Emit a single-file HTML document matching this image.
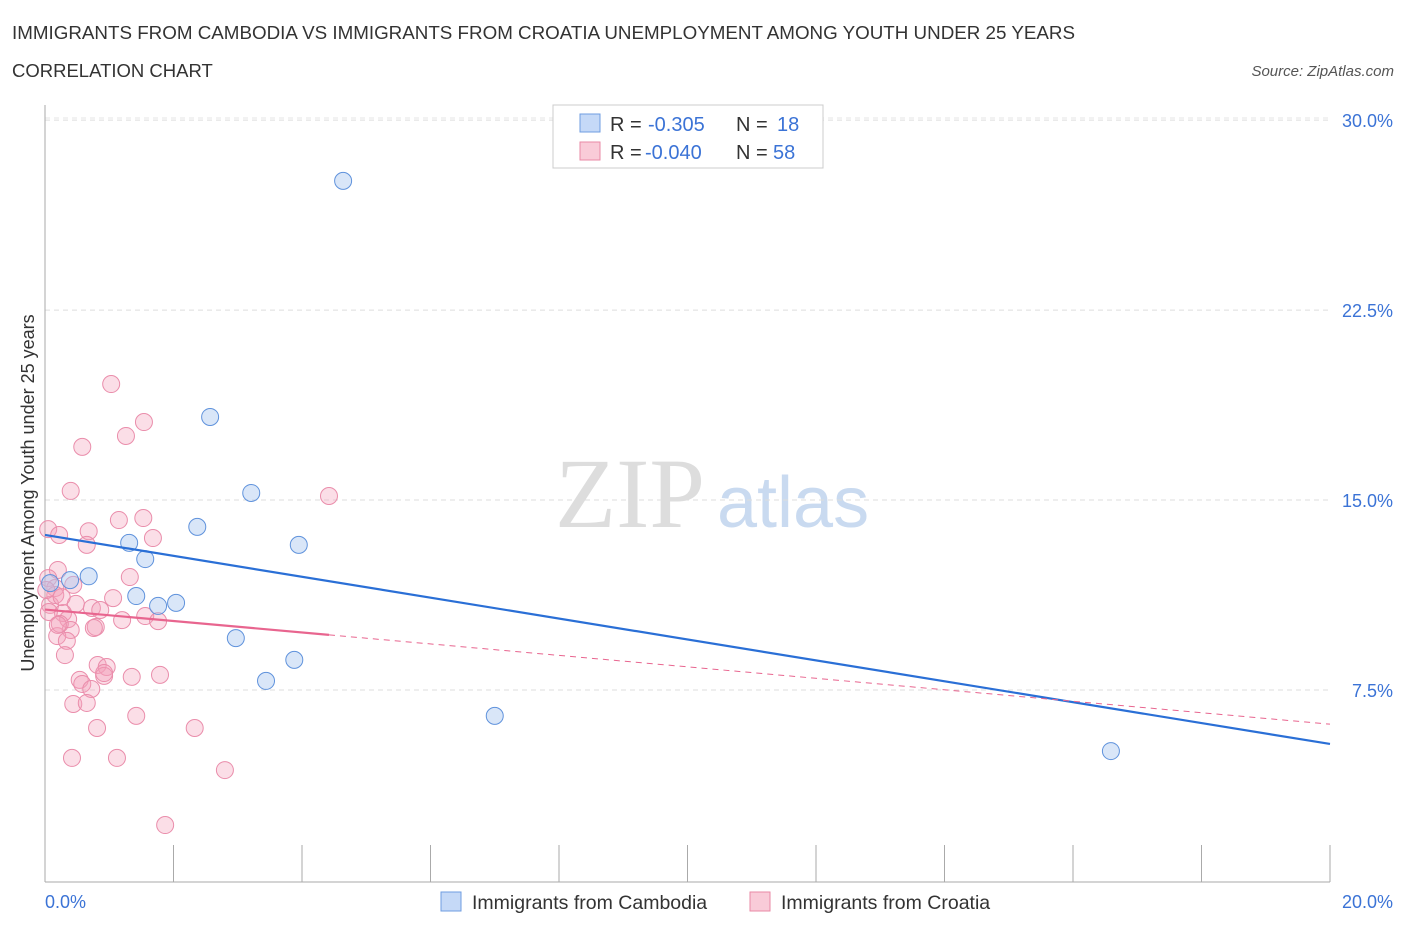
<!DOCTYPE html>
<html><head><meta charset="utf-8"><style>
body{margin:0;background:#fff;font-family:"Liberation Sans",sans-serif}
svg text{font-family:"Liberation Sans",sans-serif}
</style></head><body>
<svg id="c" width="1406" height="930" xmlns="http://www.w3.org/2000/svg">
<text x="12" y="39" font-size="18.8" fill="#333">IMMIGRANTS FROM CAMBODIA VS IMMIGRANTS FROM CROATIA UNEMPLOYMENT AMONG YOUTH UNDER 25 YEARS</text>
<text x="12" y="77" font-size="18.5" fill="#333">CORRELATION CHART</text>
<text x="1394" y="76" font-size="15" fill="#555" font-style="italic" text-anchor="end">Source: ZipAtlas.com</text>
<text x="555" y="527" font-size="100" fill="#ddd" style="font-family:'Liberation Serif',serif">ZIP</text>
<text x="717" y="527" font-size="72" fill="#c9daf0">atlas</text>
<g id="grid"></g><g id="axes"></g><g id="lines"></g><g id="pts"></g>
<text transform="translate(34,493) rotate(-90)" font-size="18" fill="#333" text-anchor="middle">Unemployment Among Youth under 25 years</text>
<text x="45" y="908" font-size="18" fill="#3b73d6" text-anchor="start">0.0%</text>
<text x="1393" y="908" font-size="18" fill="#3b73d6" text-anchor="end">20.0%</text>
<g>
<rect x="553" y="105" width="270" height="63" fill="#fff" stroke="#ccc"/>
<rect x="580" y="114" width="20" height="18" fill="#c5d9f7" stroke="#6f9de0"/>
<text x="610" y="131" font-size="20" fill="#333">R =</text>
<text x="648" y="131" font-size="20" fill="#3b73d6">-0.305</text>
<text x="736" y="131" font-size="20" fill="#333">N =</text>
<text x="777" y="131" font-size="20" fill="#3b73d6">18</text>
<rect x="580" y="142" width="20" height="18" fill="#f9cbd8" stroke="#e98aa6"/>
<text x="610" y="159" font-size="20" fill="#333">R =</text>
<text x="645" y="159" font-size="20" fill="#3b73d6">-0.040</text>
<text x="736" y="159" font-size="20" fill="#333">N =</text>
<text x="773" y="159" font-size="20" fill="#3b73d6">58</text>
</g>
<g>
<rect x="441" y="892" width="20" height="19" fill="#c5d9f7" stroke="#6f9de0"/>
<text x="472" y="909" font-size="19.5" fill="#333">Immigrants from Cambodia</text>
<rect x="750" y="892" width="20" height="19" fill="#f9cbd8" stroke="#e98aa6"/>
<text x="781" y="909" font-size="19.5" fill="#333">Immigrants from Croatia</text>
</g>
</svg>
<script>
const yTicks=[7.5,15,22.5,30];
const yTickLabels=["7.5%","15.0%","22.5%","30.0%"];
const cambodiaX=[4.64,2.57,3.21,2.37,1.31,1.56,3.95,0.68,0.39,0.08,1.42,1.76,2.04,2.97,3.88,3.44,7.00,16.59];
const cambodiaY=[27.6,18.28,15.28,13.94,13.31,12.67,13.23,11.99,11.84,11.72,11.21,10.82,10.94,9.55,8.69,7.86,6.48,5.09];
const croatiaX=[1.03,1.54,1.26,0.58,0.40,4.42,1.15,1.53,0.68,0.05,0.22,1.68,0.65,0.20,1.32,0.05,0.44,0.16,1.06,0.08,0.73,0.48,0.28,0.06,1.56,1.20,1.76,0.36,0.79,0.76,0.40,0.19,0.34,0.31,0.82,0.96,0.92,1.35,1.79,0.54,0.58,0.72,0.44,0.65,0.81,1.42,2.33,0.42,1.12,2.80,1.87,0.92,0.16,0.23,0.02,0.26,0.86,0.20];
const croatiaY=[19.58,18.08,17.53,17.10,15.36,15.16,14.21,14.29,13.77,13.85,13.62,13.50,13.23,12.24,11.96,11.92,11.65,11.53,11.13,10.86,10.74,10.90,10.54,10.58,10.42,10.26,10.22,10.30,9.99,9.95,9.87,9.63,9.44,8.88,8.49,8.41,8.06,8.02,8.10,7.90,7.74,7.54,6.95,6.99,6.00,6.48,6.00,4.82,4.82,4.34,2.17,8.17,11.25,10.11,11.45,11.17,10.66,10.07];
const X=v=>45+v*64.25, Y=v=>880-v*25.33;
const NS="http://www.w3.org/2000/svg";
function mk(t,a,p){const e=document.createElementNS(NS,t);for(const k in a)e.setAttribute(k,a[k]);document.getElementById(p).appendChild(e);return e;}
yTicks.forEach((t,i)=>{
 const g=mk('line',{x1:45,x2:1330,y1:Y(t),y2:Y(t),stroke:'#ddd','stroke-dasharray':'5,4'},'grid');
 
 
 const l=mk('text',{x:1393,y:Y(t)+7,'font-size':18,fill:'#3b73d6','text-anchor':'end'},'axes');
 l.textContent=yTickLabels[i];
 
 
});
const topGrid=mk('line',{x1:45,x2:1330,y1:118,y2:118,stroke:'#e5e5e5','stroke-dasharray':'5,4'},'grid');


const ya=mk('line',{x1:45,x2:45,y1:105,y2:882,stroke:'#aaa'},'axes');


const xa=mk('line',{x1:45,x2:1330,y1:882,y2:882,stroke:'#aaa'},'axes');


for(let i=0;i<=10;i++){const t=mk('line',{x1:X(i*2),x2:X(i*2),y1:845,y2:882,stroke:'#aaa'},'axes');
 
 }
function reg(xs,ys){const n=xs.length;let mx=0,my=0;xs.forEach((v,i)=>{mx+=v;my+=ys[i]});mx/=n;my/=n;let sxy=0,sxx=0;xs.forEach((v,i)=>{sxy+=(v-mx)*(ys[i]-my);sxx+=(v-mx)*(v-mx)});const b=sxy/sxx;return [my-b*mx,b];}
const [ca,cb]=reg(cambodiaX,cambodiaY);
const [ra,rb]=reg(croatiaX,croatiaY);
const mxr=Math.max(...croatiaX);
croatiaX.forEach((v,i)=>{const c=mk('circle',{cx:X(v),cy:Y(croatiaY[i]),r:8.5,fill:'rgba(244,160,186,0.35)',stroke:'#ea8dab','stroke-width':1},'pts');
 
 });
cambodiaX.forEach((v,i)=>{const c=mk('circle',{cx:X(v),cy:Y(cambodiaY[i]),r:8.5,fill:'rgba(170,200,240,0.45)',stroke:'#5f92dc','stroke-width':1},'pts');
 
 });
const bl=mk('line',{x1:X(0),y1:Y(ca),x2:X(20),y2:Y(ca+cb*20),stroke:'#2a6fd6','stroke-width':2.2},'pts');


const pl=mk('line',{x1:X(0),y1:Y(ra),x2:X(mxr),y2:Y(ra+rb*mxr),stroke:'#e8658f','stroke-width':2.2},'pts');


const pd=mk('line',{x1:X(mxr),y1:Y(ra+rb*mxr),x2:X(20),y2:Y(ra+rb*20),stroke:'#e8658f','stroke-width':1,'stroke-dasharray':'6,5'},'pts');


</script>
</body></html>
